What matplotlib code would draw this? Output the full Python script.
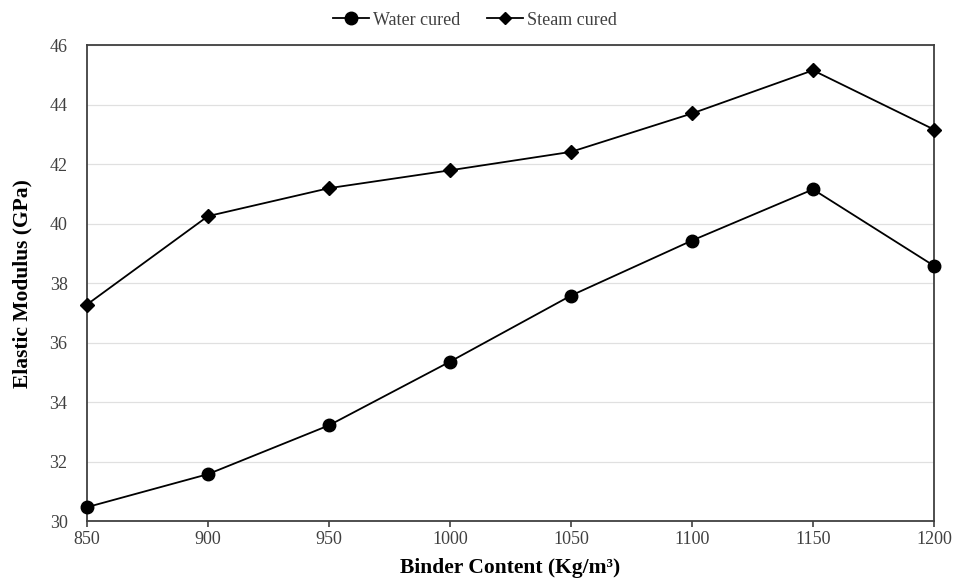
import matplotlib.pyplot as plt
from matplotlib.lines import Line2D

binder = [850, 900, 950, 1000, 1050, 1100, 1150, 1200]
water_cured = [30.47, 31.58, 33.22, 35.36, 37.58, 39.43, 41.15, 38.58]
steam_cured = [37.28, 40.25, 41.19, 41.79, 42.41, 43.70, 45.15, 43.16]

plt.rcParams["font.family"] = ["Liberation Serif", "DejaVu Serif"]

fig = plt.figure(figsize=(9.56, 5.81), dpi=100)
ax = fig.add_axes([0.091, 0.103, 0.886, 0.8195])

ax.plot(binder, water_cured, color="black", linewidth=1.3, marker="o",
        markersize=9, label="Water cured", clip_on=False, zorder=3)
ax.plot(binder, steam_cured, color="black", linewidth=1.3, marker="D",
        markersize=7, label="Steam cured", clip_on=False, zorder=3)

ax.set_xlim(850, 1200)
ax.set_ylim(30, 46)
ax.set_xticks(range(850, 1201, 50))
ax.set_yticks(range(30, 47, 2))
ax.yaxis.grid(True, color="#e0e0e0", linewidth=0.9)
ax.set_axisbelow(True)
ax.tick_params(axis="x", direction="out", length=4, width=1.2, colors="#404040",
               labelsize=13, labelcolor="#404040", pad=3)
ax.tick_params(axis="y", length=0, labelsize=13, labelcolor="#404040", pad=14)

for s in ax.spines.values():
    s.set_color("#404040")
    s.set_linewidth(1.3)

ax.set_xlabel("Binder Content (Kg/m³)", fontsize=15.5, fontweight="bold", labelpad=7)
ax.set_ylabel("Elastic Modulus (GPa)", fontsize=15.5, fontweight="bold", labelpad=12)

handles = [
    Line2D([], [], color="black", linewidth=1.3, marker="o", markersize=9),
    Line2D([], [], color="black", linewidth=1.3, marker="D", markersize=6),
]
fig.legend(handles, ["Water cured", "Steam cured"], loc="upper center",
           bbox_to_anchor=(0.497, 1.008), ncol=2, frameon=False, fontsize=13,
           handlelength=2.0, handletextpad=0.2, columnspacing=1.5,
           labelcolor="#404040")

fig.savefig("out.png", dpi=100)
